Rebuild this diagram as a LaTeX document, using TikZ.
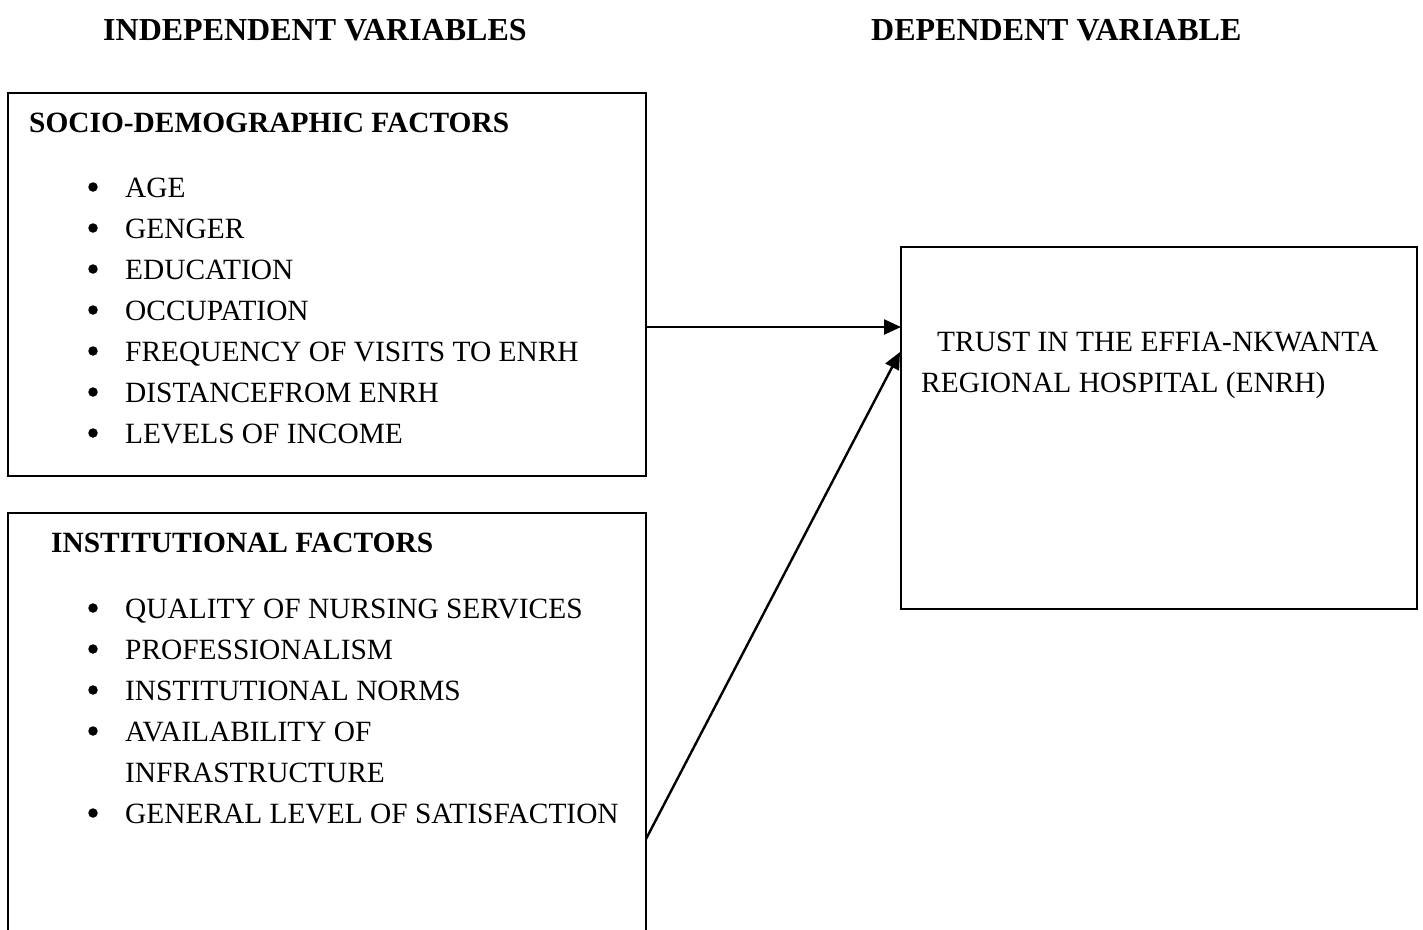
\documentclass[tikz,border=0pt]{standalone}
\usepackage{fontspec}
\setmainfont{Liberation Serif}
\usetikzlibrary{arrows.meta}
\begin{document}
\begin{tikzpicture}[x=1pt,y=-1pt,
  txt/.style={anchor=base west,inner sep=0pt,font=\fontsize{29.4}{41}\selectfont},
  bold/.style={txt,font=\fontsize{29.4}{41}\selectfont\bfseries},
  title/.style={txt,font=\fontsize{32}{41}\selectfont\bfseries},
  boxline/.style={line width=2.2pt},
  arr/.style={line width=2.4pt,-{Triangle[length=17pt,width=15pt]}},
  dot/.style={circle,fill=black,inner sep=0pt,minimum size=9.5pt}]
\useasboundingbox (0,0) rectangle (1423,929);
% titles
\node[title] (t1) at (103,40) {INDEPENDENT VARIABLES};
\node[title] (t2) at (871,40) {DEPENDENT VARIABLE};
% box 1
\node[draw,boxline,anchor=north west,minimum width=638pt,minimum height=383pt,inner sep=0pt,outer sep=0pt] (soc) at (8,93) {};
\node[bold] (sh) at (29,132) {SOCIO-DEMOGRAPHIC FACTORS};
\foreach \t [count=\i] in {AGE,GENGER,EDUCATION,OCCUPATION,FREQUENCY OF VISITS TO ENRH,DISTANCEFROM ENRH,LEVELS OF INCOME}{
  \node[dot] (sd\i) at (93,{197+41*(\i-1)-10}) {};
  \node[txt] (st\i) at (125,{197+41*(\i-1)}) {\t};
}
% box 2 (open at bottom)
\coordinate (ibl) at (8,935);
\coordinate (itl) at (8,513);
\coordinate (itr) at (646,513);
\coordinate (ibr) at (646,935);
\draw[boxline] (ibl) -- (itl) -- (itr) -- (ibr);
\node[bold] (ih) at (51,552) {INSTITUTIONAL FACTORS};
\node[dot] (id1) at (93,608) {};
\node[txt] (it1) at (125,618) {QUALITY OF NURSING SERVICES};
\node[dot] (id2) at (93,649) {};
\node[txt] (it2) at (125,659) {PROFESSIONALISM};
\node[dot] (id3) at (93,690) {};
\node[txt] (it3) at (125,700) {INSTITUTIONAL NORMS};
\node[dot] (id4) at (93,731) {};
\node[txt] (it4) at (125,741) {AVAILABILITY OF};
\node[txt] (it5) at (125,782) {INFRASTRUCTURE};
\node[dot] (id6) at (93,813) {};
\node[txt] (it6) at (125,823) {GENERAL LEVEL OF SATISFACTION};
% box 3
\node[draw,boxline,anchor=north west,minimum width=516pt,minimum height=362pt,inner sep=0pt,outer sep=0pt] (trust) at (901,247) {};
\node[txt] (tt1) at (937,351) {TRUST IN THE EFFIA-NKWANTA};
\node[txt] (tt2) at (921,392) {REGIONAL HOSPITAL (ENRH)};
% connectors
\coordinate (a1s) at (646,327);
\coordinate (a1e) at (901,327);
\coordinate (a2s) at (646,839);
\coordinate (a2e) at (900,352);
\draw[arr] (a1s) -- (a1e);
\draw[arr] (a2s) -- (a2e);
\end{tikzpicture}
\end{document}
